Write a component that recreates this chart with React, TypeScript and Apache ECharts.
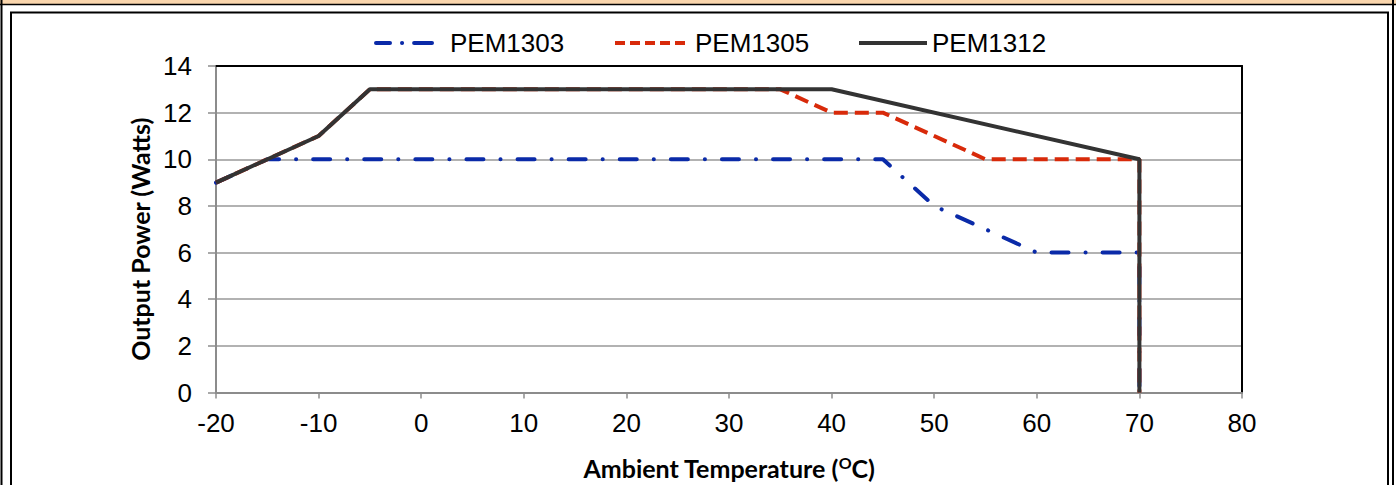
import React, { useEffect, useRef } from "react";
import * as echarts from "echarts";

const seriesNames = ["PEM1303", "PEM1305", "PEM1312"];
// [ambient temperature °C, output power W]
const pem1303: [number, number][] = [[-20, 9], [-15, 10], [45, 10], [50, 8], [55, 7], [60, 6], [70, 6], [70, 0]];
const pem1305: [number, number][] = [[-20, 9], [-10, 11], [-5, 13], [35, 13], [40, 12], [45, 12], [55, 10], [70, 10], [70, 0]];
const pem1312: [number, number][] = [[-20, 9], [-10, 11], [-5, 13], [40, 13], [70, 10], [70, 0]];
const xTicks = { min: -20, max: 80, interval: 10 };
const yTicks = { min: 0, max: 14, interval: 2 };
const colors = ["#0a2aa8", "#d82a0a", "#333333"];

export default function App() {
  const ref = useRef<HTMLDivElement>(null);
  useEffect(() => {
    if (!ref.current) return;
    const chart = echarts.init(ref.current, undefined, { renderer: "svg" });
    const gray = "#8c8c8c";
    const font = "Arial, 'Liberation Sans', sans-serif";
    const titleFont = "Lato, 'Open Sans', sans-serif";
    const legendBase = {
      top: 25,
      itemHeight: 14,
      itemStyle: { color: "transparent", borderColor: "transparent", borderWidth: 0 },
      textStyle: { fontFamily: font, fontSize: 26, color: "#000" },
    };
    chart.setOption({
      animation: false,
      backgroundColor: "#ffffff",
      legend: [
        {
          ...legendBase,
          left: 369,
          itemWidth: 56,
          data: [seriesNames[0]],
          lineStyle: { width: 4, type: [14, 12, 0.1, 12, 40], cap: "round" },
          textStyle: { ...legendBase.textStyle, padding: [0, 0, 0, 13] },
        },
        {
          ...legendBase,
          left: 608,
          itemWidth: 72,
          data: [seriesNames[1]],
          lineStyle: { width: 4, type: [10, 5] },
          textStyle: { ...legendBase.textStyle, padding: [0, 0, 0, 3] },
        },
        { ...legendBase, left: 852, itemWidth: 68, data: [seriesNames[2]], lineStyle: { width: 4 } },
      ],
      grid: { left: 216, right: 154, top: 66, bottom: 91 },
      xAxis: [
        {
          type: "value",
          min: xTicks.min,
          max: xTicks.max,
          interval: xTicks.interval,
          axisLine: { show: true, onZero: false, lineStyle: { color: gray, width: 2 } },
          axisTick: { show: true, length: 6, lineStyle: { color: gray, width: 1.5 } },
          axisLabel: { fontFamily: font, fontSize: 26, color: "#000", margin: 17 },
          splitLine: { show: false },
          name: "Ambient Temperature ({sup|O}C)",
          nameLocation: "middle",
          nameGap: 62,
          nameTextStyle: {
            fontFamily: titleFont,
            fontWeight: "bold",
            fontSize: 25,
            color: "#000",
            rich: {
              sup: { fontFamily: titleFont, fontWeight: "bold", fontSize: 16, color: "#000", verticalAlign: "top", padding: [0, 0, 10, 0] },
            },
          },
        },
        {
          type: "value",
          position: "top",
          min: xTicks.min,
          max: xTicks.max,
          axisLine: { show: true, onZero: false, lineStyle: { color: "#000", width: 2 } },
          axisTick: { show: false },
          axisLabel: { show: false },
          splitLine: { show: false },
        },
      ],
      yAxis: [
        {
          type: "value",
          min: yTicks.min,
          max: yTicks.max,
          interval: yTicks.interval,
          axisLine: { show: true, onZero: false, lineStyle: { color: gray, width: 2 } },
          axisTick: { show: true, length: 8, lineStyle: { color: gray, width: 1.5 } },
          axisLabel: { fontFamily: font, fontSize: 26, color: "#000", margin: 24 },
          splitLine: { show: true, lineStyle: { color: "#999999", width: 1.5 } },
          name: "Output Power (Watts)",
          nameLocation: "middle",
          nameGap: 62,
          nameTextStyle: { fontFamily: titleFont, fontWeight: "bold", fontSize: 25, color: "#000", padding: [0, 20, 0, 0] },
        },
        {
          type: "value",
          position: "right",
          min: yTicks.min,
          max: yTicks.max,
          axisLine: { show: true, onZero: false, lineStyle: { color: "#000", width: 2 } },
          axisTick: { show: false },
          axisLabel: { show: false },
          splitLine: { show: false },
        },
      ],
      series: [
        {
          name: seriesNames[0],
          type: "line",
          data: pem1303,
          symbol: "none",
          lineStyle: { color: colors[0], width: 4, type: [17, 17, 0.1, 17], cap: "round" },
          itemStyle: { color: colors[0] },
          z: 2,
        },
        {
          name: seriesNames[1],
          type: "line",
          data: pem1305,
          symbol: "none",
          lineStyle: { color: colors[1], width: 4, type: [14, 7] },
          itemStyle: { color: colors[1] },
          z: 3,
        },
        {
          name: seriesNames[2],
          type: "line",
          data: pem1312,
          symbol: "none",
          lineStyle: { color: colors[2], width: 4 },
          itemStyle: { color: colors[2] },
          z: 4,
        },
      ],
      graphic: [
        { type: "rect", shape: { x: 0, y: 0, width: 1396, height: 4 }, style: { fill: "#fad6ad" }, silent: true },
        { type: "line", shape: { x1: 0, y1: 4.5, x2: 1396, y2: 4.5 }, style: { stroke: "#000", lineWidth: 1.5 }, silent: true },
        { type: "line", shape: { x1: 1.5, y1: 0, x2: 1.5, y2: 485 }, style: { stroke: "#000", lineWidth: 2 }, silent: true },
        { type: "line", shape: { x1: 1393, y1: 0, x2: 1393, y2: 485 }, style: { stroke: "#000", lineWidth: 2 }, silent: true },
        { type: "rect", shape: { x: 11, y: 12.5, width: 1377, height: 490 }, style: { fill: "none", stroke: "#000", lineWidth: 2 }, silent: true },
      ],
    });
    return () => chart.dispose();
  }, []);
  return (
    <div
      ref={ref}
      style={{ position: "fixed", left: 0, top: 0, width: 1396, height: 485 }}
    />
  );
}
